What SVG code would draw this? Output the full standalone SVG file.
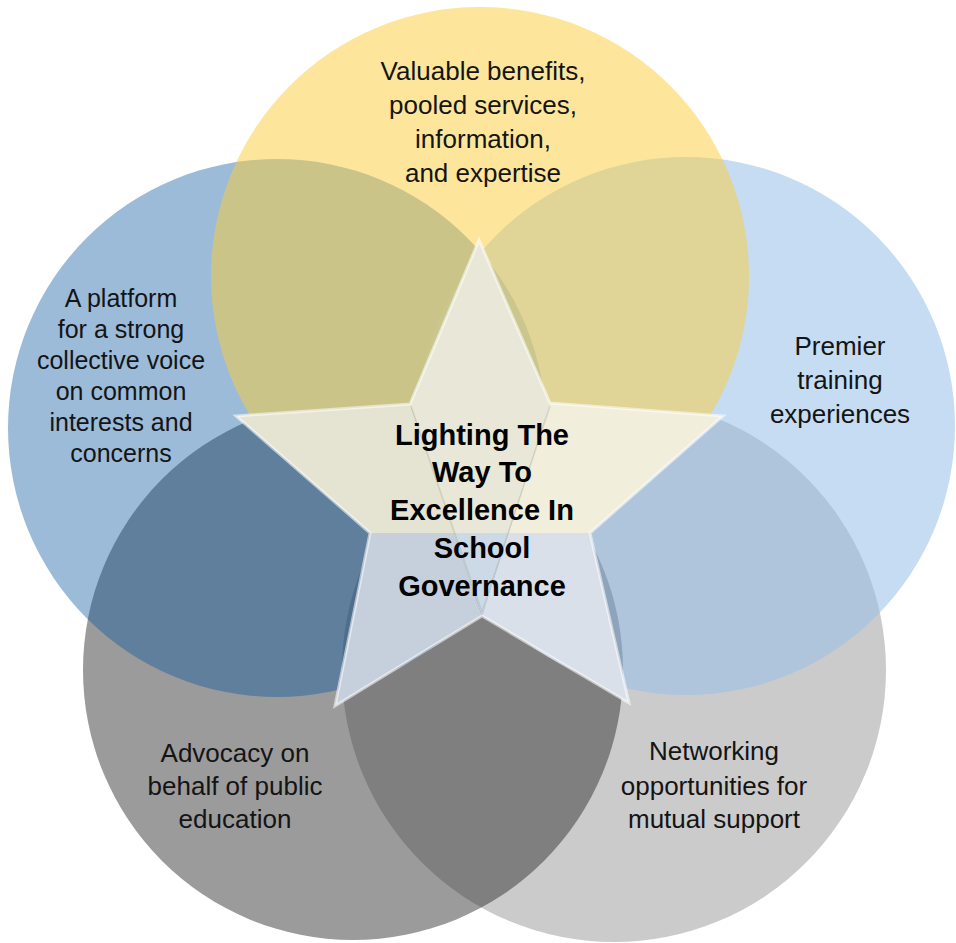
<svg xmlns="http://www.w3.org/2000/svg" width="956" height="943" viewBox="0 0 956 943">
<style>
.lbl{font-family:"Liberation Sans",Arial,sans-serif;font-size:26px;fill:#141414;text-anchor:middle}
.lbl-s{font-size:25px}
.ctr{font-family:"Liberation Sans",Arial,sans-serif;font-size:29px;font-weight:bold;fill:#000;text-anchor:middle}
.facet{stroke:none}
</style>
<defs>
<clipPath id="clip-low"><polygon points="0,420 236,416 410,404 550,403 723,416 956,420 956,943 0,943"/></clipPath>
<clipPath id="clip-high"><polygon points="0,0 956,0 956,416 723,416 590,533 480,600 370,533 236,416 0,416"/></clipPath>
</defs>
<rect width="956" height="943" fill="#ffffff"/>
<g id="node-advocacy">
<circle cx="353" cy="670" r="270" fill="#9b9b9b" clip-path="url(#clip-low)"/>
<text class="lbl"><tspan x="235" y="762">Advocacy on</tspan><tspan x="235" y="795">behalf of public</tspan><tspan x="235" y="828">education</tspan></text>
</g>
<g id="node-networking">
<circle cx="614" cy="670" r="272" fill="#262626" fill-opacity="0.24" clip-path="url(#clip-low)"/>
<text class="lbl"><tspan x="714" y="760">Networking</tspan><tspan x="714" y="795">opportunities for</tspan><tspan x="714" y="828">mutual support</tspan></text>
</g>
<g id="node-platform">
<circle cx="277" cy="428" r="269" fill="#0555a0" fill-opacity="0.4"/>
<text class="lbl lbl-s"><tspan x="121" y="307">A platform</tspan><tspan x="121" y="338">for a strong</tspan><tspan x="121" y="369">collective voice</tspan><tspan x="121" y="400">on common</tspan><tspan x="121" y="431">interests and</tspan><tspan x="121" y="462">concerns</tspan></text>
</g>
<g id="node-training">
<circle cx="686" cy="426" r="269" fill="#98c1e8" fill-opacity="0.56"/>
<text class="lbl"><tspan x="840" y="355">Premier</tspan><tspan x="840" y="389">training</tspan><tspan x="840" y="423">experiences</tspan></text>
</g>
<g id="node-benefits">
<circle cx="480" cy="276" r="269" fill="#fbcd39" fill-opacity="0.5" clip-path="url(#clip-high)"/>
<text class="lbl"><tspan x="483" y="80">Valuable benefits,</tspan><tspan x="483" y="114">pooled services,</tspan><tspan x="483" y="148">information,</tspan><tspan x="483" y="182">and expertise</tspan></text>
</g>
<g id="node-center">
<polygon class="facet" points="236,416 410,404 453.8,533 370,533" fill="#e5e4d3"/>
<polygon class="facet" points="479,240 550,403 508.5,533 453.8,533 410,404" fill="#e9e8d8"/>
<polygon class="facet" points="550,403 723,416 590,533 508.5,533" fill="#f1eedc"/>
<polygon class="facet" points="370,533 453.8,533 482,616 335,706" fill="#c6d0dc"/>
<polygon class="facet" points="453.8,533 508.5,533 482,616" fill="#ccd9e6"/>
<polygon class="facet" points="508.5,533 590,533 629,703 482,616" fill="#d9e0e9"/>
<polyline points="411,406 482,612 550,406" fill="none" stroke="#a8a8a0" stroke-opacity="0.35" stroke-width="1.5"/>
<polygon points="479,240 550,403 723,416 590,533 629,703 482,616 335,706 370,533 236,416 410,404" fill="none" stroke="#ffffff" stroke-opacity="0.55" stroke-width="3" stroke-linejoin="miter"/>
<text class="ctr"><tspan x="482" y="445">Lighting The</tspan><tspan x="482" y="482">Way To</tspan><tspan x="482" y="520">Excellence In</tspan><tspan x="482" y="558">School</tspan><tspan x="482" y="596">Governance</tspan></text>
</g>
</svg>
